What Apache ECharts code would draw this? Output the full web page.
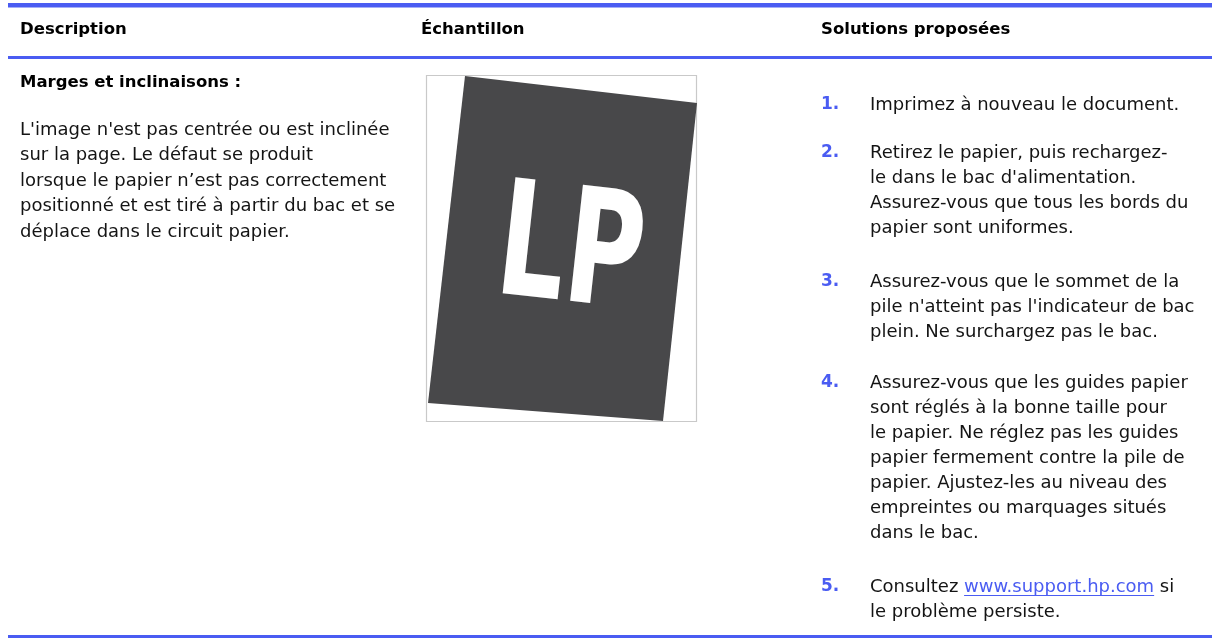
<!DOCTYPE html>
<html>
<head>
<meta charset="utf-8">
<script src="https://cdn.jsdelivr.net/npm/echarts@6/dist/echarts.min.js"></script>
<style>
  html, body { margin: 0; padding: 0; background: #ffffff; }
  #main { width: 1212px; height: 638px; }
</style>
</head>
<body>
<div id="main"></div>
<script>
// ---- content ----
const headers = ['Description', 'Échantillon', 'Solutions proposées'];
const descTitle = 'Marges et inclinaisons :';
const descLines = [
  "L'image n'est pas centrée ou est inclinée",
  'sur la page. Le défaut se produit',
  'lorsque le papier n’est pas correctement',
  'positionné et est tiré à partir du bac et se',
  'déplace dans le circuit papier.'
];
const sampleLabel = 'LP';
const stepNumbers = ['1.', '2.', '3.', '4.', '5.'];
const stepLines = [
  ['Imprimez à nouveau le document.'],
  ['Retirez le papier, puis rechargez-', "le dans le bac d'alimentation.", 'Assurez-vous que tous les bords du', 'papier sont uniformes.'],
  ['Assurez-vous que le sommet de la', "pile n'atteint pas l'indicateur de bac", 'plein. Ne surchargez pas le bac.'],
  ['Assurez-vous que les guides papier', 'sont réglés à la bonne taille pour', 'le papier. Ne réglez pas les guides', 'papier fermement contre la pile de', 'papier. Ajustez-les au niveau des', 'empreintes ou marquages situés', 'dans le bac.'],
  ['Consultez', 'le problème persiste.']
];
const linkText = 'www.support.hp.com';
const linkTail = ' si';

// ---- layout / style ----
const BLUE = '#4a5cf2';
const TEXT = '#141414';
const FONT = '"DejaVu Sans", sans-serif';
const bodyFont = '18px ' + FONT;
const headFont = 'bold 16.5px ' + FONT;
const numFont = 'bold 17px ' + FONT;
const colX = [20, 421, 821];
const stepTextX = 870;
const stepStartY = [105, 153, 282, 383, 587];
const lineH = 25;
const descStartY = 130, descLineH = 25.5;

const measure = (function () {
  const c = document.createElement('canvas').getContext('2d');
  return function (txt, font) { c.font = font; return c.measureText(txt).width; };
})();

const g = [];
// rules
g.push({ type: 'rect', shape: { x: 8, y: 3, width: 1204, height: 4.5 }, style: { fill: BLUE } });
g.push({ type: 'rect', shape: { x: 8, y: 56, width: 1204, height: 3 }, style: { fill: BLUE } });
g.push({ type: 'rect', shape: { x: 8, y: 635, width: 1204, height: 3 }, style: { fill: BLUE } });

// header
headers.forEach(function (h, i) {
  g.push({ type: 'text', x: colX[i], y: 30, style: { text: h, font: headFont, fill: '#000', textAlign: 'left', textVerticalAlign: 'middle' } });
});

// description column
g.push({ type: 'text', x: colX[0], y: 83, style: { text: descTitle, font: headFont, fill: '#000', textAlign: 'left', textVerticalAlign: 'middle' } });
descLines.forEach(function (t, i) {
  g.push({ type: 'text', x: colX[0], y: descStartY + i * descLineH, style: { text: t, font: bodyFont, fill: TEXT, textAlign: 'left', textVerticalAlign: 'middle' } });
});

// sample image
g.push({ type: 'rect', shape: { x: 426.5, y: 75.5, width: 270, height: 346 }, style: { fill: '#ffffff', stroke: '#c9c9c9', lineWidth: 1.2 } });
g.push({ type: 'polygon', shape: { points: [[465, 76], [697, 103], [697, 103], [663, 421], [428, 403]] }, style: { fill: '#48484a' } });
g.push({ type: 'text', x: 570, y: 259, rotation: -0.11, scaleX: 0.74, style: { text: sampleLabel, font: 'bold 160px "Liberation Sans Narrow", "DejaVu Sans Condensed", sans-serif', fill: '#ffffff', textAlign: 'center', textVerticalAlign: 'middle' } });

// solutions column
stepNumbers.forEach(function (n, i) {
  const y0 = stepStartY[i];
  g.push({ type: 'text', x: colX[2], y: y0, style: { text: n, font: numFont, fill: BLUE, textAlign: 'left', textVerticalAlign: 'middle' } });
  stepLines[i].forEach(function (t, j) {
    const y = y0 + j * lineH;
    if (i === 4 && j === 0) {
      const w1 = measure(t + ' ', bodyFont);
      const wl = measure(linkText, bodyFont);
      g.push({ type: 'text', x: stepTextX, y: y, style: { text: t + ' ', font: bodyFont, fill: TEXT, textAlign: 'left', textVerticalAlign: 'middle' } });
      g.push({ type: 'text', x: stepTextX + w1, y: y, style: { text: linkText, font: bodyFont, fill: BLUE, textAlign: 'left', textVerticalAlign: 'middle' } });
      g.push({ type: 'line', shape: { x1: stepTextX + w1, y1: y + 8.5, x2: stepTextX + w1 + wl, y2: y + 8.5 }, style: { stroke: BLUE, lineWidth: 1 } });
      g.push({ type: 'text', x: stepTextX + w1 + wl, y: y, style: { text: linkTail, font: bodyFont, fill: TEXT, textAlign: 'left', textVerticalAlign: 'middle' } });
    } else {
      g.push({ type: 'text', x: stepTextX, y: y, style: { text: t, font: bodyFont, fill: TEXT, textAlign: 'left', textVerticalAlign: 'middle' } });
    }
  });
});

const chart = echarts.init(document.getElementById('main'), null, { renderer: 'canvas' });
chart.setOption({
  animation: false,
  backgroundColor: '#ffffff',
  graphic: { elements: g }
});
</script>
</body>
</html>
